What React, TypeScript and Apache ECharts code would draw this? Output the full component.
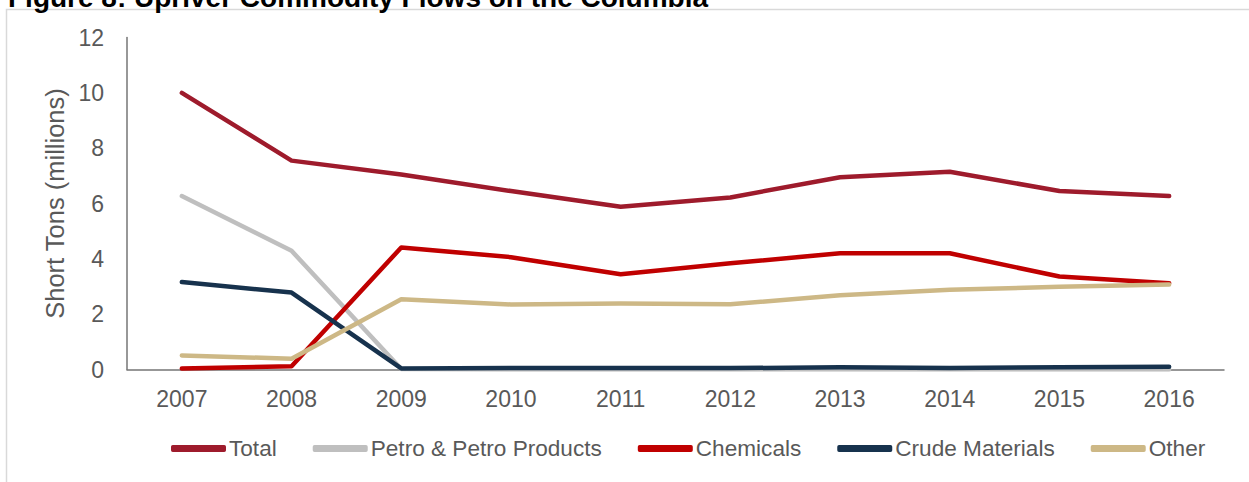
import React, { useEffect, useRef } from "react";
import * as echarts from "echarts";

const TITLE = "Figure 8: Upriver Commodity Flows on the Columbia";
const years = ["2007", "2008", "2009", "2010", "2011", "2012", "2013", "2014", "2015", "2016"];
const total = [10.0, 7.55, 7.05, 6.45, 5.88, 6.22, 6.95, 7.15, 6.45, 6.27];
const petro = [6.27, 4.29, 0.02, 0, 0, 0, 0, 0, 0, 0];
const chemicals = [0.04, 0.12, 4.41, 4.06, 3.44, 3.84, 4.2, 4.2, 3.36, 3.12];
const crude = [3.16, 2.78, 0.04, 0.05, 0.05, 0.05, 0.08, 0.05, 0.08, 0.1];
const other = [0.51, 0.39, 2.54, 2.35, 2.39, 2.36, 2.68, 2.88, 2.99, 3.07];
const yTicks = [0, 2, 4, 6, 8, 10, 12];

const seriesDefs = [
  { name: "Total", data: total, color: "#9E1B2C" },
  { name: "Petro & Petro Products", data: petro, color: "#BFBFBF" },
  { name: "Chemicals", data: chemicals, color: "#C00000" },
  { name: "Crude Materials", data: crude, color: "#17324D" },
  { name: "Other", data: other, color: "#CDB886" },
];

export default function App() {
  const ref = useRef<HTMLDivElement>(null);
  useEffect(() => {
    document.body.style.margin = "0";
    const chart = echarts.init(ref.current!, null, { renderer: "svg" });
    const font = "'Liberation Sans', Arial, sans-serif";
    chart.setOption({
      animation: false,
      textStyle: { fontFamily: font },
      graphic: [
        {
          type: "rect",
          shape: { x: 6.5, y: 9.5, width: 1400, height: 600 },
          style: { fill: "none", stroke: "#D9D9D9", lineWidth: 1.5 },
          silent: true,
        },
        {
          type: "text",
          x: 8,
          y: -3,
          style: {
            text: TITLE,
            font: `bold 28px ${font}`,
            fill: "#000000",
            verticalAlign: "middle",
            align: "left",
          },
        },
      ],
      grid: { left: 127, right: 25, top: 37.5, bottom: 112.5, containLabel: false },
      legend: {
        left: 166,
        top: 432,
        icon: "roundRect",
        itemWidth: 55,
        itemHeight: 7,
        itemGap: 36,
        textStyle: { fontSize: 22.6, color: "#595959", fontFamily: font, padding: [0, 0, 0, -2] },
        data: seriesDefs.map((s) => s.name),
      },
      xAxis: {
        type: "category",
        data: years,
        boundaryGap: true,
        axisLine: { lineStyle: { color: "#767676", width: 1.5 } },
        axisTick: { show: false },
        axisLabel: { fontSize: 23, color: "#595959", margin: 18, fontFamily: font },
      },
      yAxis: {
        type: "value",
        min: yTicks[0],
        max: yTicks[yTicks.length - 1],
        interval: 2,
        name: "Short Tons (millions)",
        nameLocation: "middle",
        nameGap: 58,
        nameTextStyle: { fontSize: 25.5, color: "#595959", fontFamily: font },
        axisLine: { show: true, lineStyle: { color: "#767676", width: 1.5 } },
        axisTick: { show: false },
        splitLine: { show: false },
        axisLabel: { fontSize: 23, color: "#595959", margin: 23, fontFamily: font },
      },
      series: seriesDefs.map((s) => ({
        name: s.name,
        type: "line",
        data: s.data,
        symbol: "none",
        color: s.color,
        lineStyle: { color: s.color, width: 4.5, cap: "round", join: "round" },
      })),
    });
    return () => chart.dispose();
  }, []);
  return (
    <div
      ref={ref}
      style={{ position: "absolute", left: 0, top: 0, width: 1249, height: 482 }}
    />
  );
}
